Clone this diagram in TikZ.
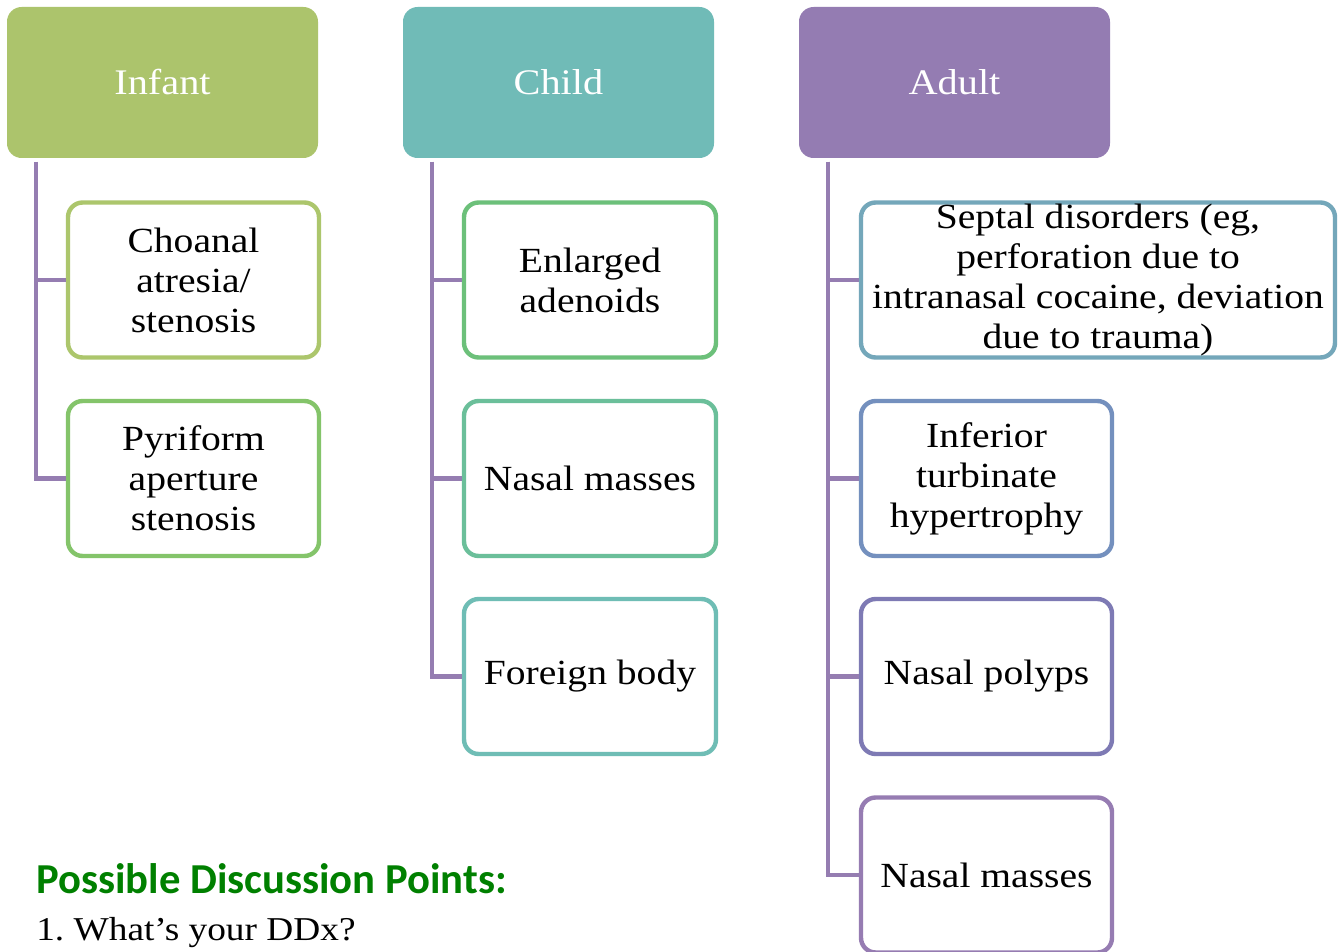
\documentclass[tikz,border=0pt]{standalone}
\usepackage{fontspec}
\setmainfont{Liberation Serif}[FakeStretch=1.12]
\newfontfamily\carlito{Carlito}
\usetikzlibrary{positioning}
\definecolor{cInfant}{RGB}{172,196,108}
\definecolor{cChild}{RGB}{112,187,183}
\definecolor{cAdult}{RGB}{148,124,178}
\definecolor{bA}{RGB}{172,198,108}
\definecolor{bB}{RGB}{132,196,106}
\definecolor{bC}{RGB}{108,192,122}
\definecolor{bD}{RGB}{107,191,154}
\definecolor{bE}{RGB}{111,189,181}
\definecolor{bF}{RGB}{116,167,186}
\definecolor{bG}{RGB}{116,144,190}
\definecolor{bH}{RGB}{126,122,180}
\definecolor{bI}{RGB}{150,124,178}
\definecolor{conn}{RGB}{149,125,177}
\definecolor{dgreen}{RGB}{0,128,0}
\tikzset{
  hdr/.style={fill=#1, draw=none, rounded corners=11pt, minimum width=311*0.75pt,
    minimum height=151*0.75pt, text=white, font=\fontsize{27pt}{30pt}\selectfont, inner sep=0pt},
  item/.style={draw=#1, fill=white, line width=3.3pt, rounded corners=11pt,
    minimum height=155*0.75pt, minimum width=251*0.75pt, align=center, inner sep=0pt,
    font=\fontsize{26.5pt}{30pt}\selectfont},
  link/.style={draw=conn, line width=3.6pt}
}
\begin{document}
\frenchspacing
\begin{tikzpicture}[x=0.75pt,y=-0.75pt]
\clip (0,0) rectangle (1340,952);
\fill[white] (0,0) rectangle (1340,952);
% headers
\node[hdr=cInfant] (h1) at (162.5,82.5) {Infant};
\node[hdr=cChild]  (h2) at (558.5,82.5) {Child};
\node[hdr=cAdult]  (h3) at (954.5,82.5) {Adult};
% connector tops
\coordinate (t1) at (36,162);
\coordinate (t2) at (432,162);
\coordinate (t3) at (828,162);
% infant items
\node[item=bA] (i1) at (193.5,280) {Choanal\\atresia/\\stenosis};
\node[item=bB] (i2) at (193.5,478.5) {Pyriform\\aperture\\stenosis};
% child items
\node[item=bC, minimum width=252*0.75pt] (c1) at (590,280) {Enlarged\\adenoids};
\node[item=bD, minimum width=252*0.75pt] (c2) at (590,478.5) {Nasal masses};
\node[item=bE, minimum width=252*0.75pt] (c3) at (590,676.5) {Foreign body};
% adult items
\node[item=bF, minimum width=474*0.75pt] (a1) at (1098,280) {Septal disorders (eg,\\perforation due to\\intranasal cocaine, deviation\\due to trauma)};
\node[item=bG] (a2) at (986.5,478.5) {Inferior\\turbinate\\hypertrophy};
\node[item=bH] (a3) at (986.5,676.5) {Nasal polyps};
\node[item=bI] (a4) at (986.5,875) {Nasal masses};
% connectors
\draw[link] (t1) |- (i1.west);
\draw[link] (t1) |- (i2.west);
\draw[link] (t2) |- (c1.west);
\draw[link] (t2) |- (c2.west);
\draw[link] (t2) |- (c3.west);
\draw[link] (t3) |- (a1.west);
\draw[link] (t3) |- (a2.west);
\draw[link] (t3) |- (a3.west);
\draw[link] (t3) |- (a4.west);
% discussion text
\node[anchor=base west, inner sep=0pt, text=dgreen, font=\carlito\bfseries\fontsize{32pt}{36pt}\selectfont] (dp) at (36,893) {Possible Discussion Points:};
\node[anchor=base west, inner sep=0pt, font=\fontsize{25pt}{30pt}\selectfont] (q1) at (36,940) {1. What’s your DDx?};
\end{tikzpicture}
\end{document}
